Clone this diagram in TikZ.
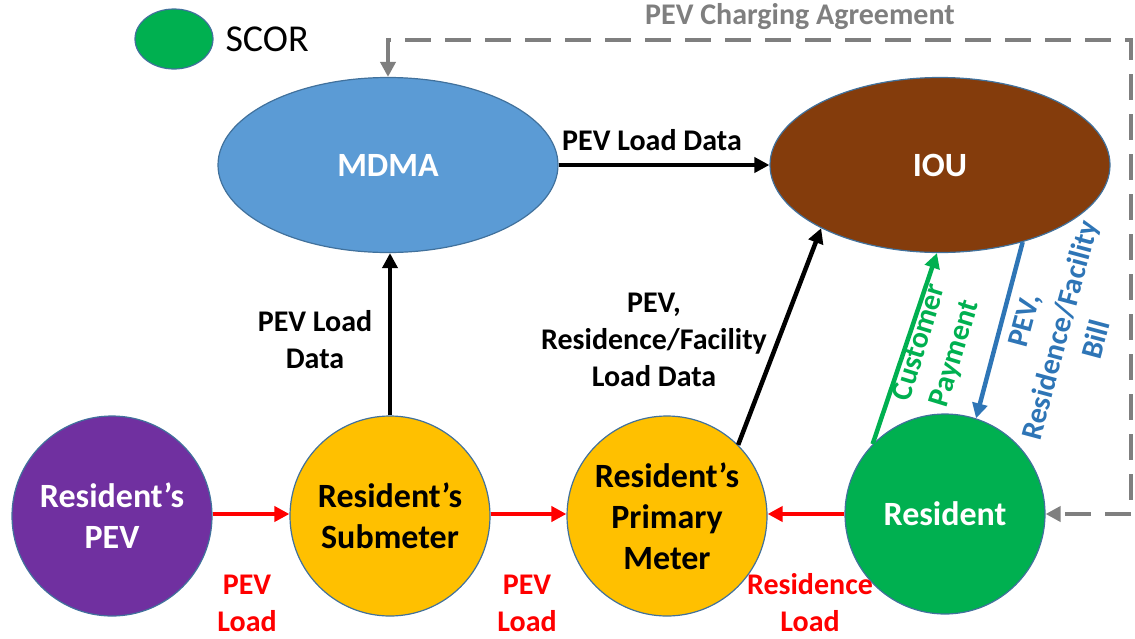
\documentclass[tikz,border=0pt]{standalone}
\usepackage{fontspec}
\setmainfont{Carlito}
\usetikzlibrary{shapes.geometric,arrows.meta}
\definecolor{cblue}{HTML}{5B9BD5}
\definecolor{cedge}{HTML}{41719C}
\definecolor{cbrown}{HTML}{843C0C}
\definecolor{cpurple}{HTML}{7030A0}
\definecolor{cgold}{HTML}{FFC000}
\definecolor{cgreen}{HTML}{00B050}
\definecolor{cred}{HTML}{FF0000}
\definecolor{cgray}{HTML}{7F7F7F}
\definecolor{cbill}{HTML}{2E75B6}
\tikzset{
  x=1pt, y=-1pt,
  bigfont/.style={font=\fontsize{34}{41}\selectfont\bfseries},
  lblfont/.style={font=\fontsize{30}{37}\selectfont\bfseries, align=center},
  ell/.style={ellipse, draw=cedge, line width=1.2pt, minimum width=340pt, minimum height=175pt, inner sep=0pt, bigfont, text=white},
  circ/.style={circle, draw=cedge, line width=1.2pt, minimum size=200pt, inner sep=0pt, bigfont, align=center},
  tiph/.style={Triangle[length=15pt,width=15pt]},
  conn/.style={-{Triangle[length=15pt,width=15pt]}, line width=4.5pt},
}
\begin{document}
\begin{tikzpicture}
\useasboundingbox (0,0) rectangle (1135,638);
% legend
\node[ellipse, draw=cedge, line width=1.2pt, fill=cgreen, minimum width=78pt, minimum height=60pt, inner sep=0pt] (leg) at (174,39) {};
\node[anchor=west, font=\fontsize{38}{42}\selectfont] (legtxt) at (222,39) {SCOR};
% top ellipses
\node[ell, fill=cblue] (mdma) at (388,165) {MDMA};
\node[ell, fill=cbrown] (iou) at (940,165) {IOU};
% circles
\node[circ, fill=cpurple, text=white] (pev) at (112,516) {Resident’s\\PEV};
\node[circ, fill=cgold, text=black] (sub) at (390,516) {Resident’s\\Submeter};
\node[circ, fill=cgold, text=black] (prim) at (667,516) {Resident’s\\Primary\\Meter};
\node[circ, fill=cgreen, text=white] (res) at (945,514) {Resident};
% red load arrows
\draw[conn, cred] (pev.east |- 0,514) -- (sub.west |- 0,514);
\draw[conn, cred] (sub.east |- 0,514) -- (prim.west |- 0,514);
\draw[conn, cred] (res.west) -- (prim.east |- res.west);
\node[lblfont, text=cred] (l1) at (247,603) {PEV\\Load};
\node[lblfont, text=cred] (l2) at (527,603) {PEV\\Load};
\node[lblfont, text=cred] (l3) at (810,603) {Residence\\Load};
% black data arrows
\draw[conn, black] (sub.north) -- (mdma.south -| sub.north);
\node[lblfont] (d1) at (315,340) {PEV Load\\Data};
\draw[conn, black] (mdma.east) -- (iou.west);
\node[lblfont] (d2) at (652,140) {PEV Load Data};
\draw[conn, black] (prim.45) -- (iou.208);
\node[lblfont] (d3) at (654,340) {PEV,\\Residence/Facility\\Load Data};
% payment and bill
\draw[conn, cgreen] (res.136) -- (iou.268);
\node[lblfont, text=cgreen, rotate=73] (pay) at (938,348) {Customer\\Payment};
\draw[conn, cbill] (iou.-43) -- (res.72);
\node[lblfont, text=cbill, rotate=75] (bill) at (1060,330) {PEV,\\Residence/Facility\\Bill};
% agreement
\coordinate (tl) at (388,40);
\coordinate (tr) at (1131,40);
\coordinate (br) at (1131,514);
\draw[cgray, line width=4.5pt, dash pattern=on 26pt off 14pt, {Triangle[length=15pt,width=15pt]}-{Triangle[length=15pt,width=15pt]}]
  (mdma.north) -- (tl) -- (tr) -- (br) -- (res.east);
\node[font=\fontsize{30}{37}\selectfont\bfseries, text=cgray] (agr) at (800,17) {PEV Charging Agreement};
\end{tikzpicture}
\end{document}
